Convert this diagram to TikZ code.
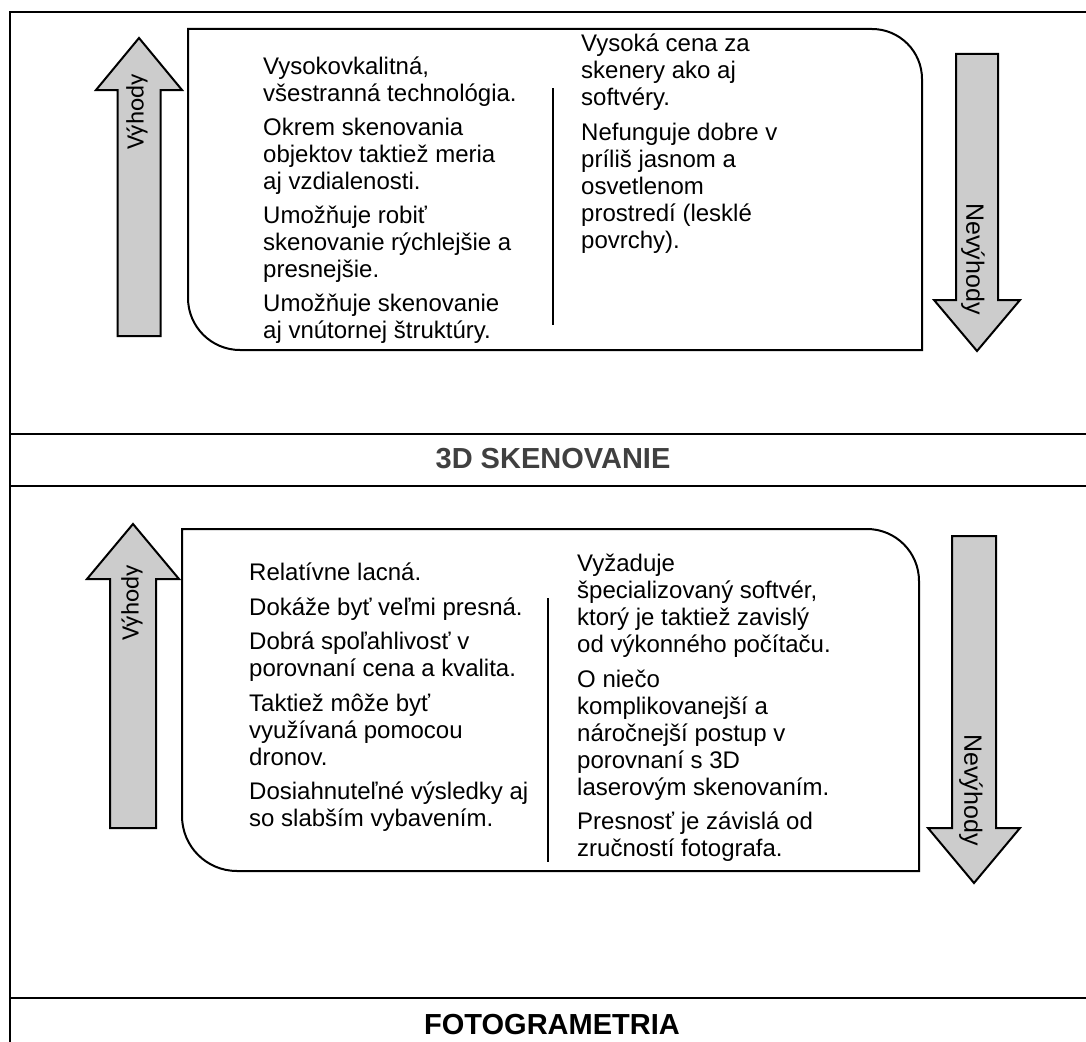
\documentclass[tikz,border=0pt]{standalone}
\usepackage{fontspec}
\setmainfont{Liberation Sans}
\newfontfamily\calfont{Carlito}
\definecolor{arrowfill}{RGB}{204,204,204}
\definecolor{hdrgray}{RGB}{64,64,64}
\begin{document}
\begin{tikzpicture}[x=1pt,y=-1pt,
  frame/.style={line width=2pt},
  boxline/.style={line width=2pt},
  fatarrow/.style={draw, line width=2pt, fill=arrowfill, line join=miter},
  col/.style={anchor=north west, inner sep=0pt, align=left, font=\fontsize{24}{27}\selectfont},
  divider/.style={line width=2pt},
  uplabel/.style={rotate=90, font=\calfont\fontsize{25}{30}\selectfont, inner sep=0pt},
  downlabel/.style={rotate=-90, font=\fontsize{25}{30}\selectfont, inner sep=0pt},
  header/.style={font=\bfseries\fontsize{29}{33}\selectfont, anchor=base, inner sep=0pt}]
\useasboundingbox (0,0) rectangle (1086,1041);
% outer frame and separators
\draw[frame] (10,1050) -- (10,12) -- (1095,12);
\draw[frame] (10,434) -- (1095,434);
\draw[frame] (10,486) -- (1095,486);
\draw[frame] (10,998) -- (1095,998);
\node[header, text=hdrgray] (h1) at (553,468) {3D SKENOVANIE};
\node[header] (h2) at (552,1034) {FOTOGRAMETRIA};

% ---------- top section ----------
\draw[boxline] (188,29) -- (872,29) .. controls (899.6,29) and (922,51.4) .. (922,79)
  -- (922,350) -- (240,350) .. controls (211.3,350) and (188,326.7) .. (188,298) -- cycle;
\draw[fatarrow] (117.5,336) -- (117.5,90) -- (96,90) -- (139,38) -- (182,90) -- (160.5,90) -- (160.5,336) -- cycle;
\draw[fatarrow] (956,54) -- (998,54) -- (998,300) -- (1020,300) -- (977,351) -- (934,300) -- (956,300) -- cycle;
\node[uplabel] (v1) at (137,112) {Výhody};
\node[downlabel] (n1) at (973,259) {Nevýhody};
\coordinate (d1t) at (553,88);
\coordinate (d1b) at (553,325);
\draw[divider] (d1t) -- (d1b);
\node[col] (a1) at (263,54.5) {\rule{0pt}{20pt}Vysokovkalitná,\\ všestranná technológia.\\[7pt]
Okrem skenovania\\ objektov taktiež meria\\ aj vzdialenosti.\\[7pt]
Umožňuje robiť\\ skenovanie rýchlejšie a\\ presnejšie.\\[7pt]
Umožňuje skenovanie\\ aj vnútornej štruktúry.};
\node[col] (b1) at (581,31.5) {\rule{0pt}{20pt}Vysoká cena za\\ skenery ako aj\\ softvéry.\\[7.5pt]
Nefunguje dobre v\\ príliš jasnom a\\ osvetlenom\\ prostredí (lesklé\\ povrchy).};

% ---------- bottom section ----------
\draw[boxline] (182,529) -- (867,529) .. controls (895.7,529) and (919,552.3) .. (919,581)
  -- (919,871) -- (237,871) .. controls (206.6,871) and (182,846.4) .. (182,816) -- cycle;
\draw[fatarrow] (110,828) -- (110,579) -- (87,579) -- (133,524) -- (179,579) -- (156,579) -- (156,828) -- cycle;
\draw[fatarrow] (952,536) -- (996,536) -- (996,828) -- (1020,828) -- (974,883) -- (928,828) -- (952,828) -- cycle;
\node[uplabel] (v2) at (132,603) {Výhody};
\node[downlabel] (n2) at (971,790) {Nevýhody};
\coordinate (d2t) at (548,598);
\coordinate (d2b) at (548,862);
\draw[divider] (d2t) -- (d2b);
\node[col] (a2) at (249,560.5) {\rule{0pt}{20pt}Relatívne lacná.\\[7.5pt]
Dokáže byť veľmi presná.\\[7.5pt]
Dobrá spoľahlivosť v\\ porovnaní cena a kvalita.\\[7.5pt]
Taktiež môže byť\\ využívaná pomocou\\ dronov.\\[7.5pt]
Dosiahnuteľné výsledky aj\\ so slabším vybavením.};
\node[col] (b2) at (577,551.5) {\rule{0pt}{20pt}Vyžaduje\\ špecializovaný softvér,\\ ktorý je taktiež zavislý\\ od výkonného počítaču.\\[7.5pt]
O niečo\\ komplikovanejší a\\ náročnejší postup v\\ porovnaní s 3D\\ laserovým skenovaním.\\[7.5pt]
Presnosť je závislá od\\ zručností fotografa.};
\end{tikzpicture}
\end{document}
